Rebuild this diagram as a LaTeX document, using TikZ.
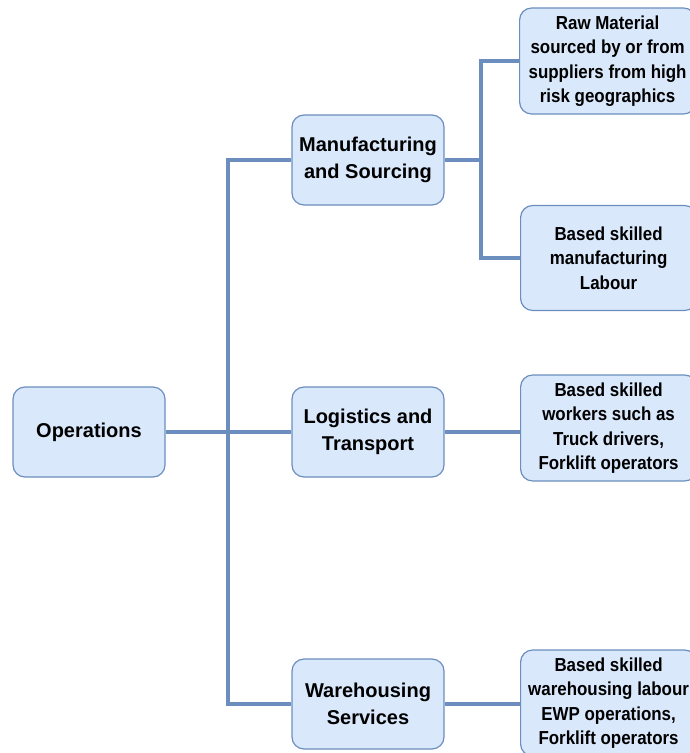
\documentclass[tikz,border=0pt]{standalone}
\usepackage{fontspec}
\setmainfont{Liberation Sans}
\newfontfamily\leaffont[FakeStretch=0.9]{Liberation Sans}
\begin{document}
\begin{tikzpicture}[x=1pt,y=-1pt,
  box/.style={draw=lineblue,fill=boxfill,line width=1.2pt,rounded corners=12pt,
    font=\bfseries\fontsize{20}{27}\selectfont,align=center,inner sep=0pt},
  leaf/.style={box,font=\leaffont\bfseries\fontsize{18.8}{24.5}\selectfont},
  conn/.style={draw=lineblue,line width=3.5pt}]
\definecolor{lineblue}{HTML}{6C8EBF}
\definecolor{boxfill}{HTML}{DAE8FC}
\useasboundingbox (0,0) rectangle (689,753);
\node[box,minimum width=152pt,minimum height=90pt] (ops) at (89,432) {Operations};
\node[box,minimum width=152pt,minimum height=90pt] (man) at (368,160) {Manufacturing\\and Sourcing};
\node[box,minimum width=152pt,minimum height=90pt] (log) at (368,432) {Logistics and\\Transport};
\node[box,minimum width=152pt,minimum height=90pt] (war) at (368,704) {Warehousing\\Services};
\node[leaf,minimum width=176pt,minimum height=106pt,anchor=west] (raw) at (519,61) {Raw Material\\sourced by or from\\suppliers from high\\risk geographics};
\node[leaf,minimum width=176pt,minimum height=105pt,anchor=west] (lab) at (520,258) {Based skilled\\manufacturing\\Labour};
\node[leaf,minimum width=176pt,minimum height=106pt,anchor=west] (trk) at (520,428) {Based skilled\\workers such as\\Truck drivers,\\Forklift operators};
\node[leaf,minimum width=176pt,minimum height=106pt,anchor=west] (wh) at (520,703) {Based skilled\\warehousing labour\\EWP operations,\\Forklift operators};
\coordinate (t) at (228,432);
\coordinate (m) at (481,160);
\draw[conn] (ops.east) -- (log.west);
\draw[conn] (man.west) -| (t) |- (war.west);
\draw[conn] (man.east) -- (m);
\draw[conn] (raw.west) -| (m) |- (lab.west);
\draw[conn] (log.east) -- (trk.west |- log.east);
\draw[conn] (war.east) -- (wh.west |- war.east);
\end{tikzpicture}
\end{document}
